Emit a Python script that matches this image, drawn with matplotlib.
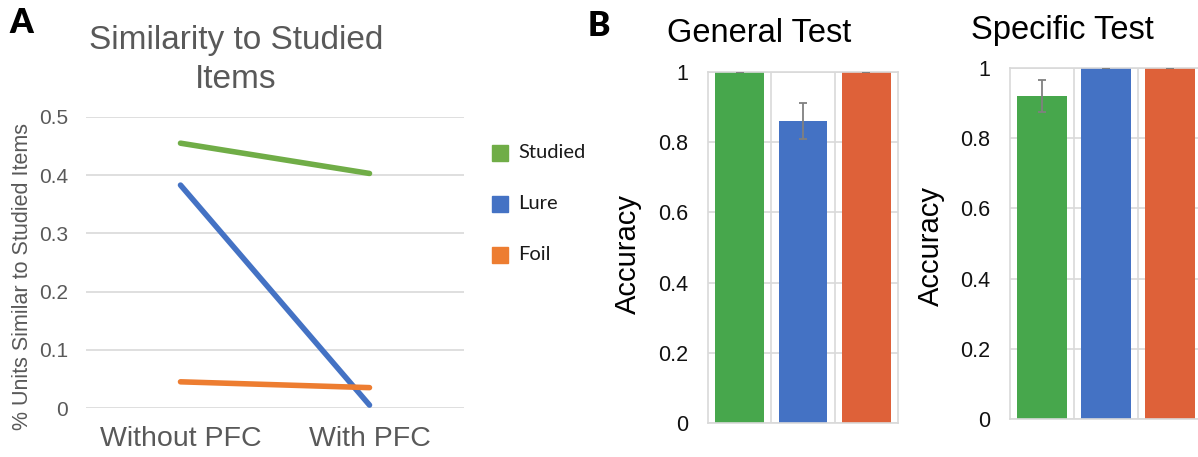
import matplotlib

matplotlib.use("Agg")
import matplotlib.pyplot as plt
import numpy as np

plt.rcParams["font.family"] = ["Liberation Sans", "DejaVu Sans"]

# Panel A: similarity lines
conditions = ["Without PFC", "With PFC"]
series_names = ["Studied", "Lure", "Foil"]
studied_vals = [0.455, 0.403]
lure_vals = [0.383, 0.005]
foil_vals = [0.045, 0.035]
line_colors = ["#70ad47", "#4472c4", "#ed7d31"]

# Panel B: accuracy bars
bar_colors = ["#47a74c", "#4472c4", "#de6139"]
general_acc = [1.0, 0.86, 1.0]
general_err = [0.0, 0.052, 0.0]
specific_acc = [0.92, 1.0, 1.0]
specific_err = [0.045, 0.0, 0.0]

W, H = 1198, 457
fig = plt.figure(figsize=(W / 100, H / 100), dpi=100)


def px_axes(x0, x1, y_top, y_bot):
    return fig.add_axes([x0 / W, 1 - y_bot / H, (x1 - x0) / W, (y_bot - y_top) / H])


# ---- A ----
ax = px_axes(86, 464, 117, 408)
xs = np.arange(len(conditions))
for vals, name, col in zip([studied_vals, lure_vals, foil_vals], series_names, line_colors):
    ax.plot(xs, vals, color=col, lw=4.0, solid_capstyle="round", label=name, zorder=3)
ax.set_xlim(-0.5, 1.5)
ax.set_ylim(0, 0.5)
ax.set_yticks([0, 0.1, 0.2, 0.3, 0.4, 0.5])
ax.set_yticklabels(["0", "0.1", "0.2", "0.3", "0.4", "0.5"])
ax.set_xticks(xs)
ax.set_xticklabels(conditions)
ax.tick_params(axis="y", length=0, pad=13, labelsize=15, labelcolor="#595959")
ax.tick_params(axis="x", length=0, pad=13, labelsize=20.5, labelcolor="#595959")
ax.yaxis.grid(True, color="#d9d9d9", lw=1.2)
ax.set_axisbelow(True)
for s in ax.spines.values():
    s.set_visible(False)
fig.text(23 / W, 1 - 276 / H, "% Units Similar to Studied Items", rotation=90,
         ha="center", va="center", fontsize=15.5, color="#595959")
fig.text(236 / W, 1 - 60 / H, "Similarity to Studied\nItems", ha="center", va="center",
         fontsize=24, color="#595959", linespacing=1.3)

# legend drawn as squares + labels
for i, (name, col) in enumerate(zip(series_names, line_colors)):
    yy = 1 - (153 + 51 * i) / H
    fig.patches.append(plt.Rectangle((492 / W, yy - 8 / H), 16 / W, 16 / H,
                                     transform=fig.transFigure, color=col))
    fig.text(518 / W, yy, name, ha="left", va="center", fontsize=14.5,
             family="Lato", color="#1a1a1a")

fig.text(21 / W, 1 - 23 / H, "A", ha="center", va="center", fontsize=24,
         fontweight="heavy", family="Lato")
fig.text(599 / W, 1 - 26 / H, "B", ha="center", va="center", fontsize=24,
         fontweight="heavy", family="Lato")


# ---- B ----
def bar_panel(ax, vals, errs):
    pos = np.arange(len(vals))
    ax.bar(pos, vals, width=0.77, color=bar_colors, zorder=2)
    ax.errorbar(pos, vals, yerr=errs, fmt="none", ecolor="#808080", elinewidth=1.3,
                capsize=3, capthick=1.3, zorder=3)
    ax.set_xlim(-0.5, 2.5)
    ax.set_ylim(0, 1)
    ax.set_xticks([])
    ax.set_yticks([0, 0.2, 0.4, 0.6, 0.8, 1.0])
    ax.set_yticklabels(["0", "0.2", "0.4", "0.6", "0.8", "1"])
    ax.tick_params(axis="y", length=0, pad=14, labelsize=15.5, labelcolor="#111111")
    ax.yaxis.grid(True, color="#d9d9d9", lw=1.2, zorder=0)
    for xv in [0.5, 1.5]:
        ax.axvline(xv, color="#d9d9d9", lw=1.2, zorder=0)
    for s in ax.spines.values():
        s.set_color("#d9d9d9")
        s.set_linewidth(1.2)
    ax.set_axisbelow(True)


ax_g = px_axes(708, 898, 72, 423)
bar_panel(ax_g, general_acc, general_err)
fig.text(628 / W, 1 - 254 / H, "Accuracy", rotation=90, ha="center", va="center", fontsize=21)
fig.text(759 / W, 1 - 33 / H, "General Test", ha="center", va="center", fontsize=23.5)

ax_s = px_axes(1010, 1202, 68, 419)
bar_panel(ax_s, specific_acc, specific_err)
fig.text(931 / W, 1 - 246 / H, "Accuracy", rotation=90, ha="center", va="center", fontsize=21)
fig.text(1062 / W, 1 - 31 / H, "Specific Test", ha="center", va="center", fontsize=23.5)

fig.savefig("out.png", dpi=100, facecolor="white")
